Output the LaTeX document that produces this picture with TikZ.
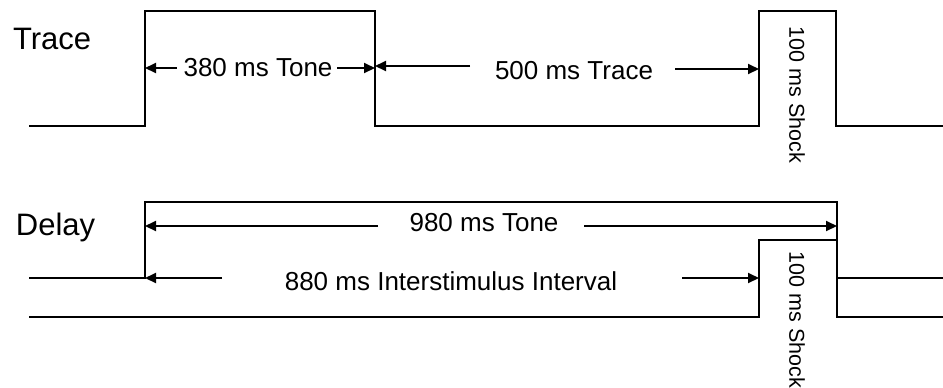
\documentclass[tikz,border=0pt]{standalone}
\usepackage{fontspec}
\setmainfont{Liberation Sans}
\usetikzlibrary{arrows.meta}

\begin{document}
\begin{tikzpicture}[x=0.5pt, y=-0.5pt, line width=1pt,
	lbl/.style={font=\fontsize{13}{15}\selectfont, inner sep=0pt},
	rowlbl/.style={font=\fontsize{15.5}{18}\selectfont, inner sep=0pt, anchor=base west},
	shocklbl/.style={font=\fontsize{10.75}{12}\selectfont, inner sep=0pt, rotate=-90},
	dim/.style={-{Triangle[length=5.5pt, width=5pt]}}]
	\useasboundingbox (0,0) rectangle (943,387);

	% Trace
	\node (trace) [rowlbl] at (12,49) {Trace};
	\coordinate (T0) at (29,126);
	\coordinate (Tup) at (145,11);
	\coordinate (Tdown) at (375,11);
	\coordinate (Sup) at (759,11);
	\coordinate (Sdown) at (836,11);
	\coordinate (T1) at (943,126);
	\draw (T0) -| (Tup) -- (Tdown) |- (Sup |- T0) -- (Sup) -- (Sdown) |- (T1);

	\node (tone380) [lbl] at (258,68) {380 ms Tone};
	\draw[dim] ([xshift=-3pt]tone380.west) -- (tone380 -| Tup);
	\draw[dim] ([xshift=2pt]tone380.east) -- (tone380 -| Tdown);

	\node (trace500) [lbl] at (574,71) {500 ms Trace};
	\coordinate (a500l) at (470,66);
	\coordinate (a500r) at (675,69);
	\draw[dim] (a500l) -- (a500l -| Tdown);
	\draw[dim] (a500r) -- (a500r -| Sup);

	\node (shockT) [shocklbl] at (797,95) {100 ms Shock};

	% Delay
	\node (delay) [rowlbl] at (15,235) {Delay};
	\coordinate (D0) at (29,278);
	\coordinate (Dup) at (145,202);
	\coordinate (Ddown) at (837,202);
	\coordinate (D1) at (943,278);
	\draw (D0) -| (Dup) -- (Ddown) |- (D1);

	\coordinate (E0) at (29,317);
	\coordinate (Eup) at (759,240);
	\coordinate (Edown) at (837,240);
	\coordinate (E1) at (943,317);
	\draw (E0) -| (Eup) -- (Edown) |- (E1);

	\node (tone980) [lbl] at (484,223) {980 ms Tone};
	\coordinate (a980l) at (378,226);
	\coordinate (a980r) at (584,226);
	\draw[dim] (a980l) -- (a980l -| Dup);
	\draw[dim] (a980r) -- (a980r -| Ddown);

	\node (isi880) [lbl] at (451,281) {880 ms Interstimulus Interval};
	\coordinate (a880l) at (222,278);
	\coordinate (a880r) at (682,278);
	\draw[dim] (a880l) -- (a880l -| Dup);
	\draw[dim] (a880r) -- (a880r -| Eup);

	\node (shockD) [shocklbl] at (797,320) {100 ms Shock};
\end{tikzpicture}
\end{document}
